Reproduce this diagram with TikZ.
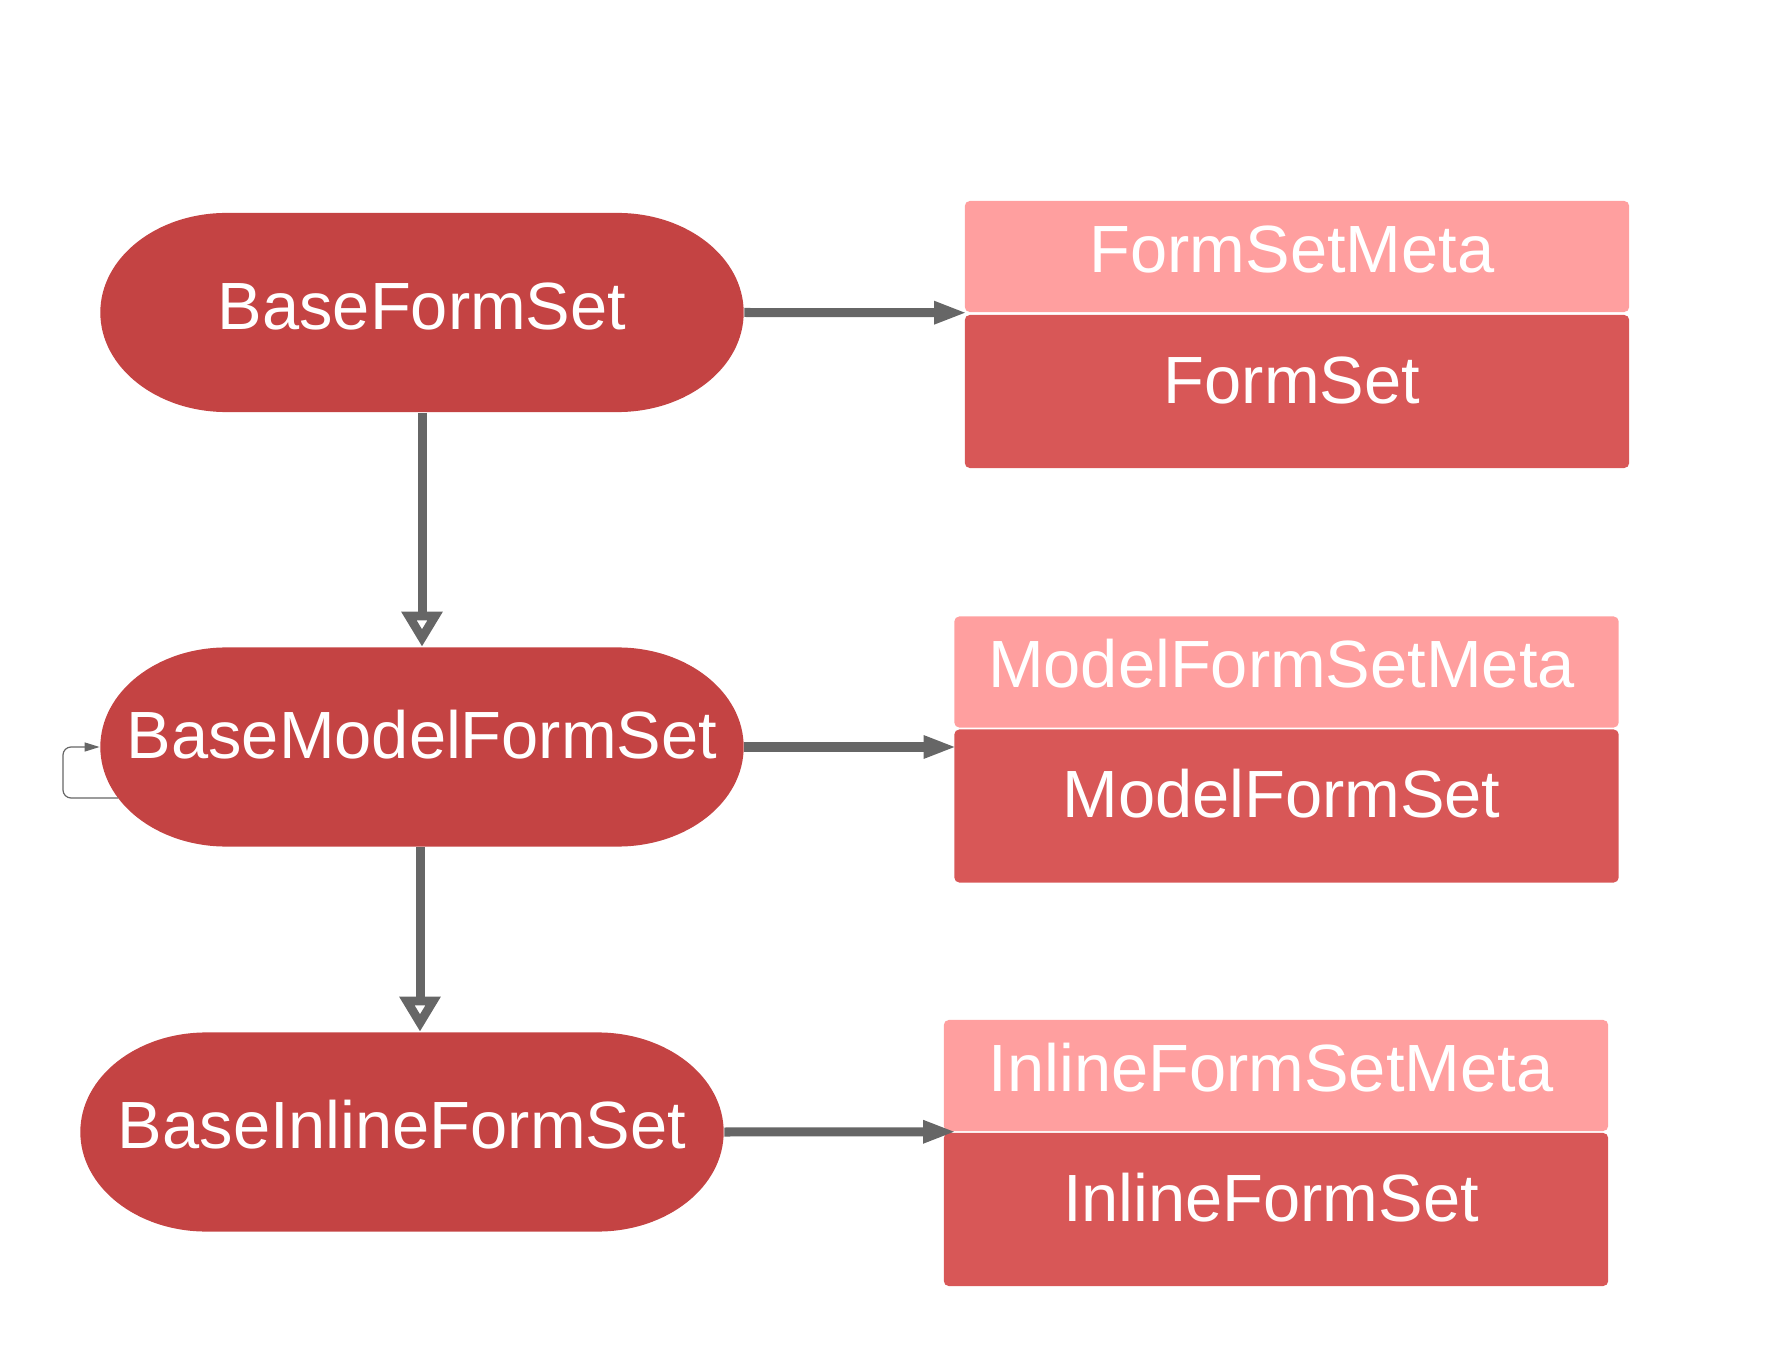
\documentclass[tikz,border=0pt]{standalone}
\usepackage{fontspec}
\setmainfont{Liberation Sans}
\usetikzlibrary{arrows.meta}
\definecolor{ellred}{HTML}{C44343}
\definecolor{hdrpink}{HTML}{FF9F9F}
\definecolor{bodyred}{HTML}{D85757}
\definecolor{arrowgray}{HTML}{666666}
\begin{document}
\begin{tikzpicture}[x=0.01cm,y=-0.01cm,
  every node/.style={font=\fontsize{19pt}{22pt}\selectfont, text=white, inner sep=0pt},
  stadium/.style={minimum width=6.43cm, minimum height=1.99cm, text height=0.5cm,
    path picture={
      \fill[ellred] ([xshift=1.26cm]path picture bounding box.north west)
        -- ([xshift=-1.26cm]path picture bounding box.north east)
        arc[start angle=90,end angle=-90,x radius=1.26cm,y radius=0.995cm]
        -- ([xshift=1.26cm]path picture bounding box.south west)
        arc[start angle=270,end angle=90,x radius=1.26cm,y radius=0.995cm] -- cycle;}},
  hdr/.style={fill=hdrpink, rounded corners=0.05cm, minimum width=6.64cm, minimum height=1.11cm, text height=0.5cm, text depth=0.19cm},
  body/.style={fill=bodyred, rounded corners=0.05cm, minimum width=6.64cm, minimum height=1.53cm, text height=0.5cm, text depth=0.27cm},
  conn/.style={draw=arrowgray, line width=0.09cm, -{Triangle[length=0.33cm,width=0.21cm]}},
  inh/.style={draw=arrowgray, line width=0.09cm, -{Triangle[open,length=0.35cm,width=0.39cm]}},
  selfloop/.style={draw=arrowgray, line width=0.012cm, rounded corners=0.08cm, -{Triangle[length=0.15cm,width=0.09cm]}}
]
\useasboundingbox (0,0) rectangle (1769,1367);

\node[stadium, text depth=0.17cm] (e1) at (422,312.5) {BaseFormSet};
\node[stadium, text depth=0.27cm] (e2) at (422,747) {BaseModelFormSet};
\node[stadium, text depth=0.18cm] (e3) at (402,1132) {BaseInlineFormSet};

\node[hdr] (h1) at (1297,256.5) {FormSetMeta\hspace*{0.1cm}};
\node[body] (b1) at (1297,391.5) {FormSet\hspace*{0.1cm}};
\node[hdr] (h2) at (1286.5,672) {ModelFormSetMeta\hspace*{0.1cm}};
\node[body] (b2) at (1286.5,806) {ModelFormSet\hspace*{0.1cm}};
\node[hdr] (h3) at (1276,1075.5) {InlineFormSetMeta\hspace*{0.1cm}};
\node[body] (b3) at (1276,1209.5) {InlineFormSet\hspace*{0.1cm}};

\draw[conn] (e1.east) -- ([xshift=0.03cm]h1.south west);
\draw[conn] (e2.east) -- ([xshift=0.03cm]e2.east -| b2.west);
\draw[conn] (e3.east) -- ([xshift=0.13cm]h3.south west);

\draw[inh] (e1.south) -- (e2.north);
\draw[inh] ([xshift=-0.02cm]e2.south) -- ([xshift=-0.02cm]e2.south |- e3.north);

\coordinate (ls) at (118,798);
\draw[selfloop] (ls) -- (63,798) -- (63,747) -- (e2.west);
\end{tikzpicture}
\end{document}
